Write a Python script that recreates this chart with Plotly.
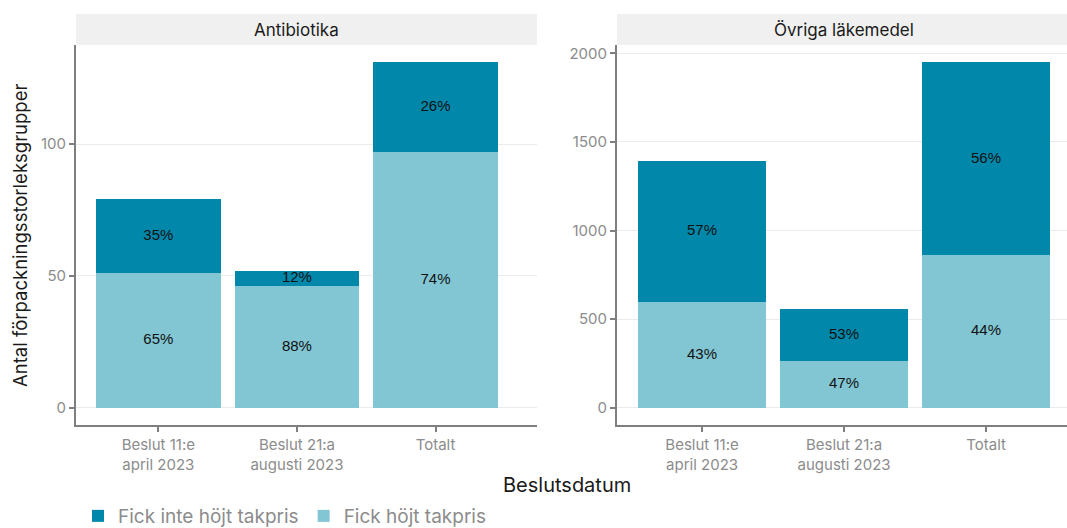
import plotly.graph_objects as go

W, H = 1067, 528

categories = ["Beslut 11:e<br>april 2023", "Beslut 21:a<br>augusti 2023", "Totalt"]

antibiotika_hojt = [51, 46, 97]
antibiotika_inte = [28, 6, 34]

ovriga_hojt = [598, 262, 860]
ovriga_inte = [795, 295, 1090]

DARK = "#0087AA"
LIGHT = "#82C6D4"
AXIS_GRAY = "#7F7F7F"
TICK_GRAY = "#8C8C8C"
GRID = "#EBEBEB"


def px_x(p):
    return p / W


def px_y(p):
    return 1 - p / H


def pct(part, hojt, inte):
    return [f"{round(100 * p / (a + b))}%" for p, a, b in zip(part, hojt, inte)]


fig = go.Figure()

panels = [
    ("x", "y", antibiotika_hojt, antibiotika_inte, True),
    ("x2", "y2", ovriga_hojt, ovriga_inte, False),
]

for xref, yref, hojt, inte, show in panels:
    fig.add_trace(go.Bar(
        x=categories, y=hojt, name="Fick höjt takpris",
        marker=dict(color=LIGHT, line=dict(width=0)), width=0.9,
        xaxis=xref, yaxis=yref, showlegend=show, legendgroup="hojt",
    ))
    fig.add_trace(go.Bar(
        x=categories, y=inte, name="Fick inte höjt takpris",
        marker=dict(color=DARK, line=dict(width=0)), width=0.9,
        xaxis=xref, yaxis=yref, showlegend=show, legendgroup="inte",
    ))
    # labels in the middle of each segment
    fig.add_trace(go.Scatter(
        x=categories + categories,
        y=[h / 2 for h in hojt] + [h + i / 2 for h, i in zip(hojt, inte)],
        text=pct(hojt, hojt, inte) + pct(inte, hojt, inte),
        mode="text", textfont=dict(family="Liberation Sans, Arial", size=15, color="#111111"),
        xaxis=xref, yaxis=yref, showlegend=False, hoverinfo="skip",
    ))

axis_common = dict(
    showline=True, linecolor=AXIS_GRAY, linewidth=2,
    ticks="outside", ticklen=5, tickwidth=2, tickcolor=AXIS_GRAY,
    tickfont=dict(family="Inter", size=15, color=TICK_GRAY),
    zeroline=False,
)

y_dom = [px_y(425), px_y(45)]

fig.update_layout(
    width=W, height=H,
    margin=dict(l=0, r=0, t=0, b=0, autoexpand=False),
    paper_bgcolor="white", plot_bgcolor="white",
    barmode="stack",
    bargap=0.1,
    font=dict(family="Inter", color="#222222"),
    xaxis=dict(domain=[px_x(76), px_x(537)], range=[-0.594, 2.732], showgrid=False,
               anchor="y", **axis_common),
    xaxis2=dict(domain=[px_x(617), 1.0], range=[-0.599, 2.570], showgrid=False,
                anchor="y2", **axis_common),
    yaxis=dict(domain=y_dom, range=[-6.55, 137.55], tickvals=[0, 50, 100],
               showgrid=True, gridcolor=GRID, gridwidth=1, anchor="x", **axis_common),
    yaxis2=dict(domain=y_dom, range=[-97.5, 2047.5], tickvals=[0, 500, 1000, 1500, 2000],
                showgrid=True, gridcolor=GRID, gridwidth=1, anchor="x2", **axis_common),
    legend=dict(
        orientation="h", traceorder="reversed",
        x=px_x(78), y=px_y(497), xanchor="left", yanchor="top",
        font=dict(family="Inter", size=19, color=TICK_GRAY),
        itemwidth=30,
    ),
)

# facet strips, label centred over the middle category as in the original
for xr, label in [("x", "Antibiotika"), ("x2", "Övriga läkemedel")]:
    fig.add_shape(type="rect", xref=f"{xr} domain", yref="paper",
                  x0=0, x1=1, y0=px_y(45), y1=px_y(14),
                  fillcolor="#F0F0F0", line=dict(width=0), layer="below")
    fig.add_annotation(xref=xr, yref="paper", x=categories[1], y=px_y(30),
                       xanchor="center", yanchor="middle",
                       text=label, showarrow=False,
                       font=dict(family="Inter", size=17, color="#1A1A1A"))

# axis titles
fig.add_annotation(xref="paper", yref="paper", x=px_x(20), y=px_y(236),
                   xanchor="center", yanchor="middle",
                   text="Antal förpackningsstorleksgrupper", textangle=-90, showarrow=False,
                   font=dict(family="Inter", size=18.5, color="#1A1A1A"))
fig.add_annotation(xref="paper", yref="paper", x=px_x(567), y=px_y(485),
                   xanchor="center", yanchor="middle",
                   text="Beslutsdatum", showarrow=False,
                   font=dict(family="Inter", size=20, color="#1A1A1A"))

fig.write_html(
    "out.html",
    config={"displayModeBar": False},
    post_script="document.body.style.margin='0';document.body.style.overflow='hidden';",
)
